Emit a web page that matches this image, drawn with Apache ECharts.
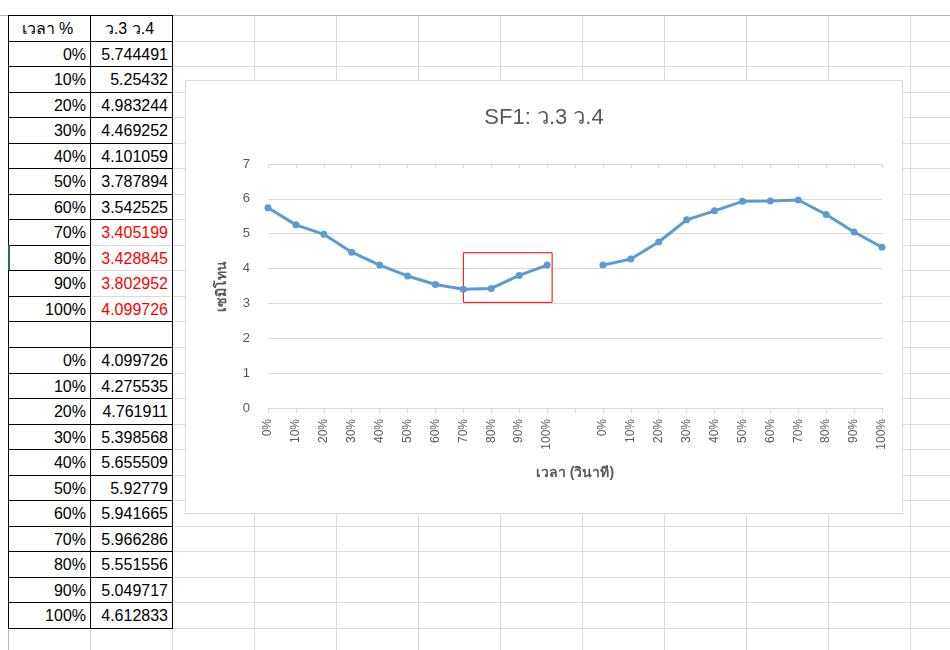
<!DOCTYPE html>
<html><head><meta charset="utf-8">
<script src="https://cdn.jsdelivr.net/npm/echarts@6/dist/echarts.min.js"></script>
<style>
html,body{margin:0;padding:0;background:#fff;width:950px;height:650px;overflow:hidden;font-family:"Liberation Sans","Noto Sans",sans-serif;}
#sheet{position:absolute;left:0;top:0;width:950px;height:650px;}
.ln{position:absolute;}
.cell{position:absolute;font-size:16px;height:25px;line-height:26px;color:#000;white-space:nowrap;}
#chartBox{position:absolute;left:185px;top:80px;width:716px;height:432px;border:1px solid #d9d9d9;background:#fff;}
#chart{width:716px;height:432px;}
</style></head><body>
<div id="sheet"></div>
<div id="chartBox"><div id="chart"></div></div>
<script>
// ---- data ----
const timeLabels = ['0%','10%','20%','30%','40%','50%','60%','70%','80%','90%','100%'];
const seriesA = [5.744491, 5.25432, 4.983244, 4.469252, 4.101059, 3.787894, 3.542525, 3.405199, 3.428845, 3.802952, 4.099726];
const seriesB = [4.099726, 4.275535, 4.761911, 5.398568, 5.655509, 5.92779, 5.941665, 5.966286, 5.551556, 5.049717, 4.612833];
const redRowsA = [7, 8, 9, 10];
const headerTime = 'เวลา %';
const headerValue = 'ว.3 ว.4';
const chartTitle = 'SF1: ว.3 ว.4';
const xTitle = 'เวลา (วินาที)';
const yTitle = 'เซมิโทน';
const yMin = 0, yMax = 7, yStep = 1;
// highlighted region (category index range, value range)
const boxFrom = 7, boxTo = 10.18, boxLow = 3.03, boxHigh = 4.455;

// ---- spreadsheet background ----
const sheet = document.getElementById('sheet');
const colX = [8, 90, 172, 254, 336, 418, 500, 582, 664, 746, 828, 910, 992];
const row0 = 15, rowH = 25.54;
function line(x, y, w, h, c) {
  const d = document.createElement('div');
  d.className = 'ln';
  d.style.cssText = `left:${x}px;top:${y}px;width:${w}px;height:${h}px;background:${c};`;
  sheet.appendChild(d);
}
const ry = k => Math.round(row0 + k * rowH);
for (let k = 1; k < 26; k++) line(8, ry(k), 942, 1, '#dadada');
colX.forEach(x => line(x, row0, 1, 650 - row0, '#dadada'));
line(0, row0, 950, 1, '#b4b4b4');
line(8, row0, 1, 650 - row0, '#bcbcbc');
const nRows = 1 + seriesA.length + 1 + seriesB.length;
// black table borders
[8, 90, 172].forEach(x => line(x, row0, 1, ry(nRows) - row0 + 1, '#000'));
for (let k = 0; k <= nRows; k++) {
  const inner = (k >= 9 && k <= 11);
  line(8, ry(k), inner ? 83 : 165, 1, '#000');
}
line(8, ry(9), 2, ry(10) - ry(9), '#217346');
function cell(r, col, text, align, color) {
  const d = document.createElement('div');
  d.className = 'cell';
  const x0 = colX[col], x1 = colX[col + 1];
  d.style.left = (x0 + 1) + 'px';
  d.style.width = (x1 - x0 - 5) + 'px';
  d.style.top = (ry(r) + 1) + 'px';
  d.style.textAlign = align;
  if (color) d.style.color = color;
  d.textContent = text;
  sheet.appendChild(d);
}
cell(0, 0, headerTime, 'center');
cell(0, 1, headerValue, 'center');
seriesA.forEach((v, i) => {
  cell(1 + i, 0, timeLabels[i], 'right');
  cell(1 + i, 1, String(v), 'right', redRowsA.includes(i) ? '#ff0000' : null);
});
seriesB.forEach((v, i) => {
  const r = 2 + seriesA.length + i;
  cell(r, 0, timeLabels[i], 'right');
  cell(r, 1, String(v), 'right');
});

// ---- chart ----
const cats = [...timeLabels, '', ...timeLabels];
const lineData = [...seriesA, null, ...seriesB];
const gray = '#595959', grid = '#d9d9d9', blue = '#5b9bd5';
const ff = '"Liberation Sans","Noto Sans",sans-serif';
const chart = echarts.init(document.getElementById('chart'));
chart.setOption({
  animation: false,
  title: { text: chartTitle, left: 'center', top: 21,
    textStyle: { fontSize: 22, fontWeight: 'normal', color: gray, fontFamily: ff } },
  grid: { left: 82, right: 20, top: 83, bottom: 105 },
  xAxis: [
    { type: 'category', data: cats, boundaryGap: false,
      axisLine: { lineStyle: { color: grid } },
      axisTick: { interval: 0, length: 5, lineStyle: { color: grid } },
      axisLabel: { interval: 0, rotate: 90, margin: 11, color: gray, fontSize: 12, fontFamily: ff },
      splitLine: { show: false },
      name: xTitle, nameLocation: 'middle', nameGap: 58,
      nameTextStyle: { color: gray, fontSize: 14, fontWeight: 'bold', fontFamily: ff } },
    { type: 'value', min: 0, max: cats.length - 1, show: false },
    { type: 'category', data: cats, boundaryGap: false,
      axisLine: { show: false }, axisLabel: { show: false }, splitLine: { show: false },
      axisTick: { inside: true, interval: 0, length: 4, lineStyle: { color: grid } } }
  ],
  yAxis: { type: 'value', min: yMin, max: yMax, interval: yStep,
    axisLine: { show: false }, axisTick: { show: false },
    splitLine: { lineStyle: { color: grid } },
    axisLabel: { color: gray, fontSize: 13, margin: 18, fontFamily: ff },
    name: yTitle, nameLocation: 'middle', nameRotate: 90, nameGap: 39,
    nameTextStyle: { color: gray, fontSize: 14, fontWeight: 'bold', fontFamily: ff } },
  series: [
    { type: 'line', data: lineData, xAxisIndex: 0, connectNulls: false,
      symbol: 'circle', symbolSize: 7, showSymbol: true,
      lineStyle: { width: 3, color: blue }, itemStyle: { color: blue } },
    { type: 'line', data: [], xAxisIndex: 1, silent: true,
      markArea: { silent: true,
        itemStyle: { color: 'rgba(0,0,0,0)', borderColor: '#ff0000', borderWidth: 1 },
        data: [[{ coord: [boxFrom, boxLow] }, { coord: [boxTo, boxHigh] }]] } }
  ]
});
</script>
</body></html>
